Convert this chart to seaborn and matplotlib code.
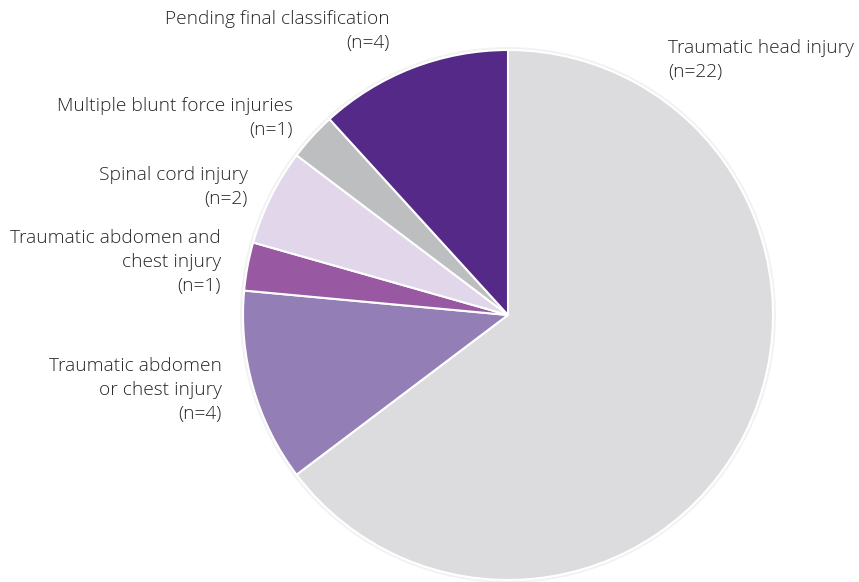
import matplotlib
matplotlib.use('Agg')
import matplotlib.pyplot as plt
import seaborn as sns

# Data (clockwise from 12 o'clock)
categories = ['Traumatic head injury',
              'Traumatic abdomen\nor chest injury',
              'Traumatic abdomen and\nchest injury',
              'Spinal cord injury',
              'Multiple blunt force injuries',
              'Pending final classification']
counts = [22, 4, 1, 2, 1, 4]
colors = ['#dcdcde', '#937fb6', '#9958a2', '#e2d6ea', '#bdbec0', '#542987']

sns.set_theme(style='white')
plt.rcParams['font.family'] = ['Open Sans', 'DejaVu Sans']

W, H = 859, 582
fig = plt.figure(figsize=(W / 100, H / 100), dpi=100)
ax = fig.add_axes([0, 0, 1, 1])

cx, cy, r = 508, H - 315, 265
# faint shadow ring
ax.add_patch(plt.Circle((cx, cy), r + 3, color='#000000', alpha=0.05, lw=0))
ax.pie(counts, colors=sns.color_palette(colors), startangle=90, counterclock=False,
       center=(cx, cy), radius=r, frame=True,
       wedgeprops=dict(edgecolor='white', linewidth=1.5))
ax.set_xlim(0, W)
ax.set_ylim(0, H)
ax.set_aspect('equal')
ax.axis('off')

# label anchor (x, y of first line in pixels from top, alignment)
label_pos = [(668, 48, 'left'), (222, 366, 'right'), (221, 238, 'right'),
             (248, 175, 'right'), (293, 106, 'right'), (390, 19, 'right')]
line_gap = 24.3
for name, n, (x, y, ha) in zip(categories, counts, label_pos):
    txt = f'{name}\n(n={n})'
    nlines = txt.count('\n') + 1
    yc = y + line_gap * (nlines - 1) / 2
    ax.text(x, H - yc, txt, ha=ha, va='center', fontsize=13.8,
            fontweight='light', color='#262626', linespacing=1.43,
            multialignment=ha)

fig.savefig('out.png', dpi=100)
